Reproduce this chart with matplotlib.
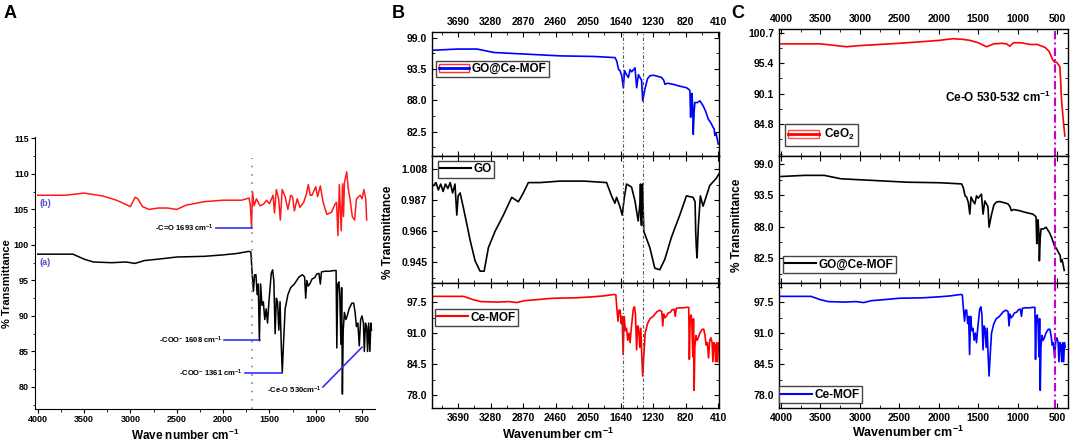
import numpy as np
import matplotlib
matplotlib.use("Agg")
import matplotlib.pyplot as plt
from matplotlib.lines import Line2D
from matplotlib.patches import Rectangle
from matplotlib.ticker import MultipleLocator

plt.rcParams['font.family'] = ['Liberation Sans', 'DejaVu Sans']
plt.rcParams['font.weight'] = 'bold'
plt.rcParams['mathtext.fontset'] = 'custom'
plt.rcParams['mathtext.rm'] = 'Liberation Sans:bold'
plt.rcParams['mathtext.bf'] = 'Liberation Sans:bold'
plt.rcParams['mathtext.default'] = 'bf'

# ---- spectra (wavenumber cm-1, % transmittance) ----
mof_wn = [4000, 3800, 3620, 3500, 3400, 3200, 3050, 2950, 2850, 2700, 2500, 2200, 2000,
          1850, 1720, 1700, 1686, 1672, 1660, 1645, 1632, 1620, 1608, 1595, 1580, 1565,
          1550, 1535, 1520, 1505, 1480, 1465, 1452, 1438, 1425, 1412, 1398, 1385, 1372,
          1361, 1348, 1330, 1300, 1270, 1230, 1180, 1145, 1120, 1108, 1096, 1080, 1060,
          1040, 1010, 990, 965, 950, 938, 900, 850, 800, 780, 772, 762, 750, 740, 728,
          720, 712, 703, 690, 675, 660, 640, 610, 590, 575, 560, 545, 530, 515, 500, 485,
          475, 463, 450, 440, 428, 415, 405, 398]
mof_T = [98.7, 98.7, 98.7, 98.0, 97.6, 97.5, 97.6, 97.4, 97.8, 98.0, 98.3, 98.4, 98.6,
         98.8, 99.1, 99.0, 96.0, 93.5, 95.8, 95.8, 93.0, 94.5, 86.5, 94.5, 91.5, 92.0,
         89.5, 91.0, 89.0, 92.0, 96.0, 96.5, 95.0, 87.5, 92.5, 92.0, 88.0, 92.0, 86.0,
         82.0, 86.0, 91.0, 93.0, 94.0, 94.5, 95.5, 95.8, 95.5, 92.5, 95.0, 94.2, 94.6,
         95.2, 95.4, 95.9, 96.0, 94.5, 96.2, 96.3, 96.3, 96.4, 96.4, 85.5, 94.5, 94.8,
         93.0, 86.0, 94.0, 79.0, 88.0, 90.5, 89.5, 90.0, 91.0, 91.8, 91.8, 90.5, 88.5,
         89.0, 85.8, 89.5, 90.0, 89.0, 85.0, 89.0, 88.5, 85.0, 89.0, 85.0, 89.0, 88.0]

# panel A, curve (b)
b_wn = [4000, 3700, 3500, 3300, 3150, 3000, 2950, 2920, 2870, 2800, 2700, 2600, 2500,
        2400, 2200, 2000, 1800, 1720, 1705, 1693, 1682, 1665, 1640, 1600, 1560, 1530,
        1500, 1460, 1445, 1425, 1400, 1382, 1362, 1330, 1300, 1270, 1250, 1230, 1200,
        1170, 1130, 1100, 1080, 1060, 1040, 1000, 980, 950, 920, 880, 830, 790, 775,
        760, 745, 725, 710, 700, 690, 665, 650, 630, 605, 580, 560, 520, 500, 480, 460,
        450]
b_T = [107.0, 107.0, 107.3, 106.9, 106.3, 105.4, 106.7, 106.5, 105.4, 105.0, 105.2,
       105.2, 105.0, 105.6, 106.1, 106.3, 106.3, 106.6, 105.5, 102.4, 107.5, 105.5,
       106.5, 105.5, 105.8, 106.3, 105.8, 107.0, 104.5, 107.8, 106.5, 103.5, 107.8,
       106.8, 105.0, 107.0, 106.8, 104.8, 106.5, 105.3, 106.0, 107.2, 108.5, 107.0,
       107.0, 108.2, 106.8, 108.3, 106.0, 104.3, 104.6, 105.8, 106.0, 101.3, 108.5,
       102.0, 108.6, 104.0, 108.8, 110.3, 108.0, 106.5, 104.0, 103.5, 106.5, 107.0,
       106.5, 107.8, 106.5, 103.5]

gomof_wn = [4000, 3700, 3450, 3240, 2820, 2400, 1980, 1710, 1689, 1665, 1647, 1625,
            1605, 1590, 1565, 1542, 1520, 1500, 1458, 1437, 1415, 1395, 1375, 1361, 1332,
            1300, 1269, 1227, 1170, 1122, 1095, 1080, 1050, 975, 900, 807, 770, 765, 756,
            748, 740, 730, 723, 712, 702, 670, 639, 597, 565, 534, 500, 471, 460, 450,
            435, 420, 408]
gomof_T = [96.8, 97.0, 97.0, 96.4, 96.1, 95.8, 95.7, 95.5, 94.9, 93.4, 93.2, 92.3,
           90.2, 93.2, 92.5, 92.0, 93.4, 93.0, 93.7, 90.2, 92.5, 92.0, 91.5, 87.9, 90.0,
           91.8, 92.3, 92.4, 92.2, 92.0, 91.5, 90.8, 91.0, 90.8, 90.5, 90.2, 89.8, 89.6,
           85.0, 88.5, 89.2, 87.0, 82.0, 86.0, 87.6, 87.6, 87.9, 87.0, 86.0, 84.7, 84.0,
           83.2, 83.0, 81.8, 82.2, 81.2, 80.3]

go_wn = [4000, 3970, 3940, 3910, 3880, 3850, 3820, 3790, 3760, 3730, 3707, 3690, 3665,
         3620, 3581, 3539, 3476, 3413, 3362, 3308, 3224, 3119, 3014, 2930, 2867, 2804,
         2657, 2405, 2100, 1817, 1754, 1712, 1691, 1650, 1620, 1595, 1565, 1502, 1460,
         1418, 1395, 1389, 1382, 1376, 1370, 1364, 1347, 1271, 1208, 1145, 1082, 998,
         893, 809, 725, 700, 692, 684, 675, 666, 658, 633, 599, 515, 431, 398]
go_T = [0.997, 0.999, 0.994, 0.998, 0.993, 0.998, 0.995, 0.999, 0.992, 0.998, 0.977,
        0.990, 0.992, 0.981, 0.971, 0.960, 0.946, 0.939, 0.939, 0.955, 0.966, 0.977,
        0.989, 0.986, 0.992, 0.999, 0.999, 1.000, 1.000, 0.999, 0.990, 0.985, 0.989,
        0.983, 0.977, 0.988, 0.998, 0.996, 0.987, 0.973, 0.985, 0.998, 0.975, 0.970,
        0.997, 0.998, 0.966, 0.955, 0.941, 0.940, 0.947, 0.962, 0.977, 0.990, 0.989,
        0.986, 0.966, 0.955, 0.948, 0.960, 0.970, 0.990, 0.983, 0.997, 1.002, 1.005]

ceo2_wn = [4000, 3700, 3500, 3300, 3167, 3000, 2500, 2000, 1820, 1700, 1600, 1500,
           1393, 1300, 1200, 1140, 1100, 1050, 950, 850, 750, 653, 600, 560, 548, 530,
           505, 463, 452, 442, 420, 400]
ceo2_T = [98.8, 98.8, 98.8, 98.5, 98.3, 98.5, 98.9, 99.4, 99.7, 99.6, 99.4, 99.0,
          98.3, 98.8, 98.9, 98.8, 98.4, 99.0, 99.0, 98.7, 98.7, 98.2, 97.5, 96.2, 95.9,
          95.6, 95.6, 94.8, 92.0, 88.9, 85.5, 82.7]

# tick labels
A_xticks = [4000, 3500, 3000, 2500, 2000, 1500, 1000, 500]
A_yticks = [80, 85, 90, 95, 100, 105, 110, 115]
B_xticks = [3690, 3280, 2870, 2460, 2050, 1640, 1230, 820, 410]
B_top_y = ['99.0', '93.5', '88.0', '82.5']
B_mid_y = ['1.008', '0.987', '0.966', '0.945']
B_bot_y = ['97.5', '91.0', '84.5', '78.0']
C_xticks = [4000, 3500, 3000, 2500, 2000, 1500, 1000, 500]
C_top_y = ['100.7', '95.4', '90.1', '84.8']
C_mid_y = ['99.0', '93.5', '88.0', '82.5']
C_bot_y = ['97.5', '91.0', '84.5', '78.0']

W, H = 1072, 443


def box(l, t, r, b):
    return [l / W, 1 - b / H, (r - l) / W, (b - t) / H]


def style_box(ax, yticks, ystep):
    vals = [float(v) for v in yticks]
    ax.set_yticks(vals)
    ax.set_yticklabels(yticks)
    ax.yaxis.set_minor_locator(MultipleLocator(ystep / 2))
    ax.tick_params(which='both', direction='in', top=True, right=True, labelsize=7.5)
    ax.tick_params(which='major', length=3.5)
    ax.tick_params(which='minor', length=2)
    for s in ax.spines.values():
        s.set_linewidth(1.0)


fig = plt.figure(figsize=(10.72, 4.43), dpi=100)

# ---------------- panel A ----------------
axA = fig.add_axes(box(35, 137, 375, 409))
axA.plot(mof_wn, mof_T, color='black', lw=1.1)
axA.plot(b_wn, b_T, color='#ff1a1a', lw=1.1)
axA.set_xlim(4030, 360)
axA.set_ylim(76.9, 115.2)
axA.spines['top'].set_visible(False)
axA.spines['right'].set_visible(False)
axA.set_xticks(A_xticks)
axA.set_yticks(A_yticks)
axA.xaxis.set_minor_locator(MultipleLocator(250))
axA.yaxis.set_minor_locator(MultipleLocator(2.5))
axA.tick_params(which='both', direction='out', labelsize=6.5, pad=1.5)
axA.tick_params(which='major', length=3)
axA.tick_params(which='minor', length=1.8)
axA.plot([1693, 1693], [76.9, 112.2], ls=(0, (1, 4)), color='#888888', lw=1.2)

blue = '#3030ff'
axA.plot([2078, 1693], [102.4, 102.4], color=blue, lw=1.2)
axA.text(2100, 102.4, '-C=O 1693 cm$^{-1}$', fontsize=5.5, ha='right', va='center')
axA.plot([1991, 1603], [86.6, 86.6], color=blue, lw=1.2)
axA.text(2010, 86.6, '-COO$^{-}$ 1608 cm$^{-1}$', fontsize=5.5, ha='right', va='center')
axA.plot([1765, 1361], [81.9, 81.9], color=blue, lw=1.2)
axA.text(1786, 81.9, '-COO$^{-}$ 1361 cm$^{-1}$', fontsize=5.5, ha='right', va='center')
axA.plot([922, 500], [80.0, 85.6], color=blue, lw=1.2)
axA.text(933, 79.5, '-Ce-O 530cm$^{-1}$', fontsize=5.5, ha='right', va='center')
axA.text(3985, 105.9, '(b)', fontsize=6.5, color='#5050d0', va='center')
axA.text(3985, 97.5, '(a)', fontsize=6.5, color='#5050d0', va='center')
fig.text(7 / W, 1 - 284 / H, '% Transmittance', fontsize=8, rotation=90,
         ha='center', va='center')
fig.text(185 / W, 1 - 435 / H, 'Wave number cm$^{-1}$', fontsize=8.5, ha='center', va='center')
fig.text(4 / W, 1 - 14 / H, 'A', fontsize=13, ha='left', va='center')

# ---------------- panel B ----------------
bx = 432, 719
axB1 = fig.add_axes(box(bx[0], 32, bx[1], 156))
axB2 = fig.add_axes(box(bx[0], 156, bx[1], 283))
axB3 = fig.add_axes(box(bx[0], 283, bx[1], 408))
axB1.plot(gomof_wn, gomof_T, color='#0000ff', lw=1.2)
axB2.plot(go_wn, go_T, color='black', lw=1.2)
axB3.plot(mof_wn, mof_T, color='#ff0000', lw=1.2)
axB1.set_ylim(78.2, 100.0)
axB2.set_ylim(0.931, 1.017)
axB3.set_ylim(75.3, 101.5)
for ax, yt, st in [(axB1, B_top_y, 5.5), (axB2, B_mid_y, 0.021), (axB3, B_bot_y, 6.5)]:
    ax.set_xlim(4020, 398)
    ax.set_xticks(B_xticks)
    ax.xaxis.set_minor_locator(MultipleLocator(205))
    style_box(ax, yt, st)
    ax.tick_params(labelbottom=False)
    for w in (1608, 1361):
        ax.axvline(w, color='#555555', lw=0.8, ls=(0, (3, 2, 1, 2)))
axB1.tick_params(labeltop=True)
axB3.tick_params(labelbottom=True)

h1 = (Rectangle((0, 0), 1, 1, facecolor='none', edgecolor='#ff3030', lw=1.0),
      Line2D([], [], color='#0000ff', lw=2))
axB1.legend([h1], ['GO@Ce-MOF'], loc='upper left', bbox_to_anchor=(0.015, 0.77),
            fontsize=8.5, fancybox=False, edgecolor='#444444', framealpha=1,
            handlelength=2.6, borderpad=0.2, handletextpad=0.2, borderaxespad=0)
axB2.legend([Line2D([], [], color='black', lw=1.5)], ['GO'], loc='upper left',
            bbox_to_anchor=(0.02, 0.96), fontsize=8.5, fancybox=False, edgecolor='#444444',
            framealpha=1, handlelength=2.6, borderpad=0.2, handletextpad=0.2, borderaxespad=0)
axB3.legend([Line2D([], [], color='#ff0000', lw=1.5)], ['Ce-MOF'], loc='upper left',
            bbox_to_anchor=(0.01, 0.79), fontsize=8.5, fancybox=False, edgecolor='#444444',
            framealpha=1, handlelength=2.6, borderpad=0.2, handletextpad=0.2, borderaxespad=0)
fig.text(388 / W, 1 - 232 / H, '% Transmittance', fontsize=8.5, rotation=90,
         ha='center', va='center')
fig.text(558 / W, 1 - 434 / H, 'Wavenumber cm$^{-1}$', fontsize=9, ha='center', va='center')
fig.text(392 / W, 1 - 14 / H, 'B', fontsize=13, ha='left', va='center')

# ---------------- panel C ----------------
cx = 779, 1068
axC1 = fig.add_axes(box(cx[0], 29, cx[1], 156))
axC2 = fig.add_axes(box(cx[0], 156, cx[1], 283))
axC3 = fig.add_axes(box(cx[0], 283, cx[1], 408))
axC1.plot(ceo2_wn, ceo2_T, color='#ff0000', lw=1.2)
axC2.plot(gomof_wn, gomof_T, color='black', lw=1.2)
axC3.plot(mof_wn, mof_T, color='#0000ff', lw=1.2)
axC1.set_ylim(79.2, 101.4)
axC2.set_ylim(78.1, 100.4)
axC3.set_ylim(75.3, 101.5)
for ax, yt, st in [(axC1, C_top_y, 5.3), (axC2, C_mid_y, 5.5), (axC3, C_bot_y, 6.5)]:
    ax.set_xlim(4025, 360)
    ax.set_xticks(C_xticks)
    ax.xaxis.set_minor_locator(MultipleLocator(250))
    style_box(ax, yt, st)
    ax.tick_params(labelbottom=False)
    ax.axvline(530, color='#cc00cc', lw=1.5, ls=(0, (4, 1.5, 1, 1.5)))
axC1.tick_params(labeltop=True)
axC3.tick_params(labelbottom=True)
axC1.text(570, 89.4, 'Ce-O 530-532 cm$^{-1}$', fontsize=8.5, ha='right', va='center')

hc = (Rectangle((0, 0), 1, 1, facecolor='none', edgecolor='#ff5050', lw=1.0),
      Line2D([], [], color='#ff0000', lw=2))
axC1.legend([hc], ['CeO$_2$'], loc='lower left', bbox_to_anchor=(0.02, 0.08),
            fontsize=8.5, fancybox=False, edgecolor='#444444', framealpha=1,
            handlelength=2.6, borderpad=0.3, handletextpad=0.4, borderaxespad=0)
axC2.legend([Line2D([], [], color='black', lw=1.5)], ['GO@Ce-MOF'], loc='lower left',
            bbox_to_anchor=(0.014, 0.08), fontsize=8.5, fancybox=False, edgecolor='#444444',
            framealpha=1, handlelength=2.6, borderpad=0.2, handletextpad=0.2, borderaxespad=0)
axC3.legend([Line2D([], [], color='#0000ff', lw=1.5)], ['Ce-MOF'], loc='lower left',
            bbox_to_anchor=(0.0, 0.04), fontsize=8.5, fancybox=False, edgecolor='#444444',
            framealpha=1, handlelength=2.6, borderpad=0.2, handletextpad=0.2, borderaxespad=0)
fig.text(737 / W, 1 - 225 / H, '% Transmittance', fontsize=8.5, rotation=90,
         ha='center', va='center')
fig.text(908 / W, 1 - 432 / H, 'Wavenumber cm$^{-1}$', fontsize=9, ha='center', va='center')
fig.text(731 / W, 1 - 14 / H, 'C', fontsize=13, ha='left', va='center')

fig.savefig('out.png', dpi=100)
